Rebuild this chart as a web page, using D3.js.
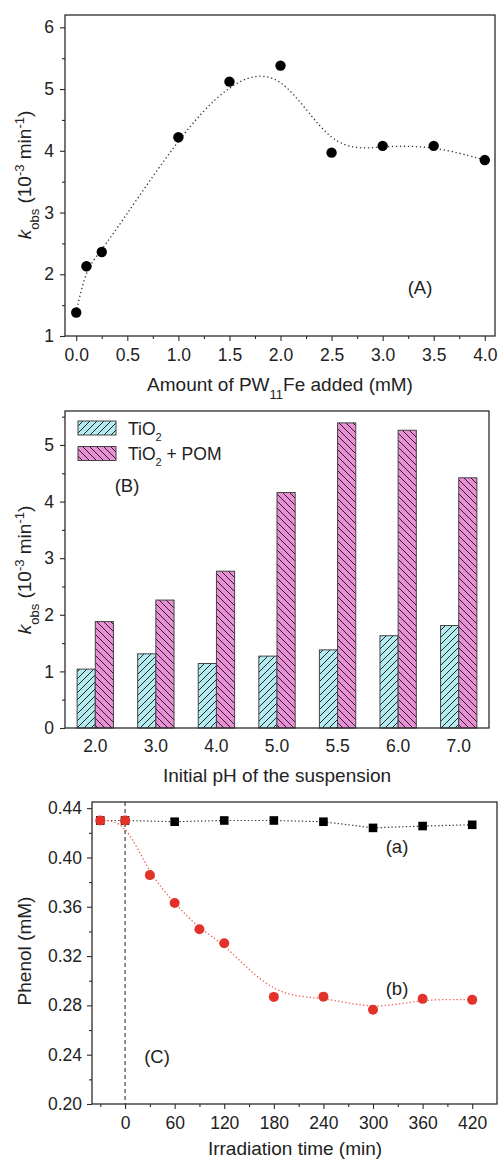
<!DOCTYPE html>
<html>
<head>
<meta charset="utf-8">
<script src="https://cdn.jsdelivr.net/npm/d3@7"></script>
<style>
  body { margin: 0; background: #fff; }
  svg { font-family: "Liberation Sans", Arial, sans-serif; }
</style>
</head>
<body>
<svg id="chart" width="498" height="1160"></svg>
<script>
// panel A: rate constant vs amount of PW11Fe
const pwAmount = [0, 0.1, 0.25, 1.0, 1.5, 2.0, 2.5, 3.0, 3.5, 4.0];
const kobsA = [1.38, 2.13, 2.36, 4.22, 5.12, 5.38, 3.97, 4.08, 4.08, 3.85];

// panel B: rate constant vs initial pH
const phLabels = ["2.0", "3.0", "4.0", "5.0", "5.5", "6.0", "7.0"];
const kobsTiO2 = [1.04, 1.31, 1.14, 1.27, 1.38, 1.63, 1.81];
const kobsPOM = [1.88, 2.26, 2.77, 4.16, 5.39, 5.26, 4.42];

// panel C: phenol vs irradiation time
const timeMin = [-30, 0, 60, 120, 180, 240, 300, 360, 420];
const phenolA = [0.430, 0.430, 0.429, 0.430, 0.430, 0.429, 0.424, 0.4255, 0.4265];
const timeMinB = [-30, 0, 30, 60, 90, 120, 180, 240, 300, 360, 420];
const phenolB = [0.430, 0.430, 0.3857, 0.363, 0.3417, 0.3304, 0.2869, 0.2871, 0.2764, 0.2853, 0.2845];

const svg = d3.select('#chart');
const ink = '#2b2b2b';
const fs = 17.5;     // tick labels
const ft = 19;       // axis titles
const fl = 18.5;     // panel labels

// hatch patterns
const defs = svg.append('defs');
function hatch(id, bg, flip) {
  let p = defs.append('pattern')
    .attr('id', id)
    .attr('patternUnits', 'userSpaceOnUse')
    .attr('width', 7).attr('height', 7);
  p.append('rect').attr('width', 7).attr('height', 7).attr('fill', bg);
  let d = flip ? 'M-1,-1 L8,8 M-8,-1 L1,8 M6,-1 L15,8' : 'M-1,8 L8,-1 M-8,8 L1,-1 M6,8 L15,-1';
  p.append('path').attr('d', d).attr('stroke', '#111').attr('stroke-width', 0.9);
}
hatch('hTiO2', '#b4ebf1', false);
hatch('hPOM', '#e98fd6', true);

function frame(x0, y0, x1, y1) {
  svg.append('rect')
    .attr('x', x0).attr('y', y0)
    .attr('width', x1 - x0).attr('height', y1 - y0)
    .attr('fill', 'none').attr('stroke', ink).attr('stroke-width', 1.3);
}

function styleAxis(g) {
  g.select('.domain').remove();
  g.selectAll('line').attr('stroke', ink).attr('stroke-width', 1.1);
  g.selectAll('text').attr('fill', '#222').style('font-size', fs + 'px')
    .style('font-family', '"Liberation Sans", Arial, sans-serif');
}

function addParts(t, parts, small) {
  parts.forEach(p => {
    let s = t.append('tspan').text(p.t);
    if (p.it) s.style('font-style', 'italic');
    if (p.sub) s.attr('baseline-shift', 'sub').style('font-size', small + 'px');
    if (p.sup) s.attr('baseline-shift', 'super').style('font-size', small + 'px');
  });
}

function yTitle(cx, cy, parts) {
  let t = svg.append('text')
    .attr('transform', `translate(${cx},${cy}) rotate(-90)`)
    .attr('text-anchor', 'middle')
    .attr('fill', '#222')
    .style('font-size', ft + 'px');
  addParts(t, parts, 13);
}

function xTitle(cx, cy, parts) {
  let t = svg.append('text')
    .attr('x', cx).attr('y', cy)
    .attr('text-anchor', 'middle')
    .attr('fill', '#222')
    .style('font-size', ft + 'px');
  addParts(t, parts, 13);
}

function panelLabel(x, y, txt) {
  svg.append('text').attr('x', x).attr('y', y).attr('text-anchor', 'middle')
    .attr('fill', '#222').style('font-size', fl + 'px').text(txt);
}

const kobsParts = [
  {t: 'k', it: true}, {t: 'obs', sub: true}, {t: ' (10'}, {t: '-3', sup: true},
  {t: ' min'}, {t: '-1', sup: true}, {t: ')'}
];

// ---------------- panel A ----------------
const xA = d3.scaleLinear().domain([-0.11, 4.1]).range([65, 495]);
const yA = d3.scaleLinear().domain([1, 6.2]).range([336, 15]);

let lineA = d3.line().x((d, i) => xA(pwAmount[i])).y(d => yA(d)).curve(d3.curveBasis);
svg.append('path')
  .attr('d', lineA(kobsA))
  .attr('fill', 'none').attr('stroke', '#333')
  .attr('stroke-width', 1.3).attr('stroke-dasharray', '1.3,2.7');

svg.selectAll('.ptA').data(kobsA).enter().append('circle')
  .attr('cx', (d, i) => xA(pwAmount[i])).attr('cy', d => yA(d))
  .attr('r', 5.2).attr('fill', '#000');

svg.append('g').attr('transform', 'translate(65,0)')
  .call(d3.axisLeft(yA).tickValues(d3.range(1.5, 6.1, 1)).tickSize(3).tickFormat(''))
  .call(styleAxis);
svg.append('g').attr('transform', 'translate(65,0)')
  .call(d3.axisLeft(yA).tickValues([1, 2, 3, 4, 5, 6]).tickSize(5).tickPadding(6).tickFormat(d3.format('d')))
  .call(styleAxis);
svg.append('g').attr('transform', 'translate(0,336)')
  .call(d3.axisBottom(xA).tickValues(d3.range(0.25, 4, 0.5)).tickSize(3).tickFormat(''))
  .call(styleAxis);
svg.append('g').attr('transform', 'translate(0,336)')
  .call(d3.axisBottom(xA).tickValues(d3.range(0, 4.01, 0.5)).tickSize(5).tickPadding(8).tickFormat(d3.format('.1f')))
  .call(styleAxis);
frame(65, 15, 495, 336);

panelLabel(420, 294, '(A)');
xTitle(280, 391, [{t: 'Amount of PW'}, {t: '11', sub: true}, {t: 'Fe added (mM)'}]);
yTitle(31, 175, kobsParts);

// ---------------- panel B ----------------
const xB = d3.scaleBand().domain(phLabels).range([65, 489]).paddingInner(0).paddingOuter(0);
const xInner = d3.scaleBand().domain(['tio2', 'pom']).range([0, xB.bandwidth() * 0.6]);
const yB = d3.scaleLinear().domain([0, 5.6]).range([728, 411]);
const offB = xB.bandwidth() * 0.2;

const seriesB = [
  {key: 'tio2', vals: kobsTiO2, fill: 'url(#hTiO2)'},
  {key: 'pom', vals: kobsPOM, fill: 'url(#hPOM)'}
];
seriesB.forEach(s => {
  svg.selectAll('.bar-' + s.key).data(s.vals).enter().append('rect')
    .attr('x', (d, i) => xB(phLabels[i]) + offB + xInner(s.key))
    .attr('y', d => yB(d))
    .attr('width', xInner.bandwidth())
    .attr('height', d => yB(0) - yB(d))
    .attr('fill', s.fill)
    .attr('stroke', '#444').attr('stroke-width', 1);
});

svg.append('g').attr('transform', 'translate(65,0)')
  .call(d3.axisLeft(yB).tickValues(d3.range(0.5, 5.6, 1)).tickSize(3).tickFormat(''))
  .call(styleAxis);
svg.append('g').attr('transform', 'translate(65,0)')
  .call(d3.axisLeft(yB).tickValues([0, 1, 2, 3, 4, 5]).tickSize(5).tickPadding(6).tickFormat(d3.format('d')))
  .call(styleAxis);
svg.append('g').attr('transform', 'translate(0,728)')
  .call(d3.axisBottom(xB).tickSize(0).tickPadding(12))
  .call(styleAxis);
frame(65, 411, 489, 728);

// legend
const legendB = [
  {fill: 'url(#hTiO2)', parts: [{t: 'TiO'}, {t: '2', sub: true}]},
  {fill: 'url(#hPOM)', parts: [{t: 'TiO'}, {t: '2', sub: true}, {t: ' + POM'}]}
];
legendB.forEach((l, i) => {
  let y0 = 421 + i * 25.5;
  svg.append('rect').attr('x', 78).attr('y', y0).attr('width', 38).attr('height', 14)
    .attr('fill', l.fill).attr('stroke', '#444').attr('stroke-width', 1);
  let t = svg.append('text').attr('x', 128).attr('y', y0 + 13.5)
    .attr('fill', '#222').style('font-size', '17.5px');
  addParts(t, l.parts, 11);
});
panelLabel(127, 492, '(B)');
xTitle(277, 782, [{t: 'Initial pH of the suspension'}]);
yTitle(31, 570, kobsParts);

// ---------------- panel C ----------------
const xC = d3.scaleLinear().domain([-40, 450]).range([92, 497]);
const yC = d3.scaleLinear().domain([0.2, 0.445]).range([1104, 802]);

svg.append('line')
  .attr('x1', xC(0)).attr('x2', xC(0)).attr('y1', 802).attr('y2', 1104)
  .attr('stroke', '#333').attr('stroke-width', 1.1).attr('stroke-dasharray', '4,3');

let lineCa = d3.line().x((d, i) => xC(timeMin[i])).y(d => yC(d));
svg.append('path').attr('d', lineCa(phenolA))
  .attr('fill', 'none').attr('stroke', '#333')
  .attr('stroke-width', 1.2).attr('stroke-dasharray', '1.3,2.3');

let lineCb = d3.line().x((d, i) => xC(timeMinB[i])).y(d => yC(d)).curve(d3.curveBasis);
svg.append('path').attr('d', lineCb(phenolB))
  .attr('fill', 'none').attr('stroke', '#ee5a4c')
  .attr('stroke-width', 1.3).attr('stroke-dasharray', '1.3,2.3');

svg.selectAll('.sqA').data(phenolA).enter().append('rect')
  .attr('x', (d, i) => xC(timeMin[i]) - 4.3).attr('y', d => yC(d) - 4.3)
  .attr('width', 8.6).attr('height', 8.6).attr('fill', '#000');

svg.selectAll('.ptB').data(phenolB).enter().append('circle')
  .attr('cx', (d, i) => xC(timeMinB[i])).attr('cy', d => yC(d))
  .attr('r', 5).attr('fill', '#e2322a');

svg.append('g').attr('transform', 'translate(92,0)')
  .call(d3.axisLeft(yC).tickValues(d3.range(0.22, 0.44, 0.04)).tickSize(3).tickFormat(''))
  .call(styleAxis);
svg.append('g').attr('transform', 'translate(92,0)')
  .call(d3.axisLeft(yC).tickValues([0.20, 0.24, 0.28, 0.32, 0.36, 0.40, 0.44]).tickSize(5).tickPadding(5).tickFormat(d3.format('.2f')))
  .call(styleAxis);
svg.append('g').attr('transform', 'translate(0,1104)')
  .call(d3.axisBottom(xC).tickValues(d3.range(-30, 450, 60)).tickSize(3).tickFormat(''))
  .call(styleAxis);
svg.append('g').attr('transform', 'translate(0,1104)')
  .call(d3.axisBottom(xC).tickValues(d3.range(0, 421, 60)).tickSize(5).tickPadding(8).tickFormat(d3.format('d')))
  .call(styleAxis);
frame(92, 802, 497, 1104);

panelLabel(397, 853, '(a)');
panelLabel(397, 995, '(b)');
panelLabel(157, 1063, '(C)');
xTitle(295, 1155, [{t: 'Irradiation time (min)'}]);
yTitle(31, 951, [{t: 'Phenol (mM)'}]);
</script>
</body>
</html>
